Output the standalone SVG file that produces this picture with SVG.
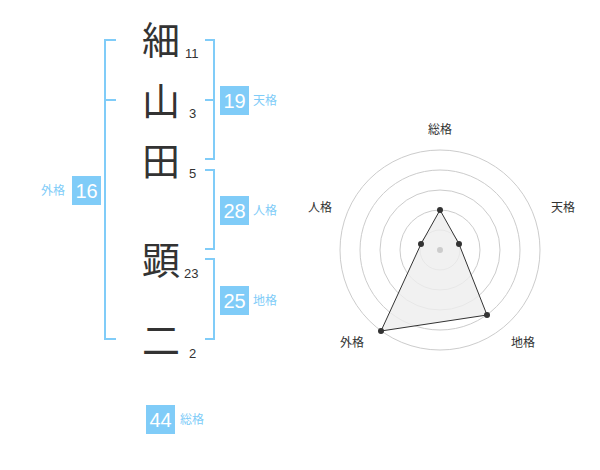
<svg xmlns="http://www.w3.org/2000/svg" width="600" height="470" viewBox="0 0 600 470">
<style>
.br{fill:none;stroke:#80ccf8;stroke-width:2}
.box{fill:#80ccf8}
.num{font-family:"Liberation Sans",Arial,sans-serif;font-size:20px;fill:#fff;text-anchor:middle}
.lab{font-family:"Noto Sans CJK JP","Noto Sans CJK SC",sans-serif;font-size:12px;fill:#80ccf8}
.ch{font-family:"Noto Sans CJK JP","Noto Sans CJK SC",sans-serif;font-size:38px;fill:#333;text-anchor:middle}
.st{font-family:"Liberation Sans",Arial,sans-serif;font-size:13px;fill:#333}
.ring{fill:none;stroke:#ccc;stroke-width:1}
.rl{font-family:"Noto Sans CJK JP","Noto Sans CJK SC",sans-serif;font-size:12px;fill:#333;text-anchor:middle}
.pt{fill:#333}
</style>
<rect width="600" height="470" fill="#fff"/>
<g id="connectors">
<path class="br" d="M116,40H105V339H116M105,100H116"/>
<path class="br" d="M205,40H214V159H205M214,100H205"/>
<path class="br" d="M205,170H214V249H205"/>
<path class="br" d="M205,259H214V339H205"/>
</g>
<g id="name">
<text class="ch" x="161" y="54">細</text>
<text class="ch" x="161" y="115">山</text>
<text class="ch" x="161" y="175">田</text>
<text class="ch" x="161" y="274">顕</text>
<text class="ch" x="161" y="354">二</text>
<text class="st" x="185" y="58">11</text>
<text class="st" x="189" y="118">3</text>
<text class="st" x="189" y="178">5</text>
<text class="st" x="184" y="278">23</text>
<text class="st" x="189" y="358">2</text>
</g>
<g id="gaikaku">
<rect class="box" x="72" y="176" width="29" height="29"/>
<text class="num" x="86.5" y="198">16</text>
<text class="lab" x="41" y="195">外格</text>
</g>
<g id="tenkaku">
<rect class="box" x="220" y="86" width="29" height="29"/>
<text class="num" x="234.5" y="108">19</text>
<text class="lab" x="253" y="105">天格</text>
</g>
<g id="jinkaku">
<rect class="box" x="220" y="196" width="29" height="29"/>
<text class="num" x="234.5" y="218">28</text>
<text class="lab" x="253" y="215">人格</text>
</g>
<g id="chikaku">
<rect class="box" x="220" y="286" width="29" height="29"/>
<text class="num" x="234.5" y="308">25</text>
<text class="lab" x="253" y="305">地格</text>
</g>
<g id="soukaku">
<rect class="box" x="146" y="405" width="29" height="29"/>
<text class="num" x="160.5" y="427">44</text>
<text class="lab" x="180" y="424">総格</text>
</g>
<g id="radar">
<circle class="ring" cx="440" cy="250" r="100"/>
<circle class="ring" cx="440" cy="250" r="80"/>
<circle class="ring" cx="440" cy="250" r="60"/>
<circle class="ring" cx="440" cy="250" r="40"/>
<circle class="ring" cx="440" cy="250" r="20"/>
<polygon points="440,210 459,244 487,315 381,331 421,244" fill="#eee" fill-opacity="0.8" stroke="#333" stroke-width="1"/>
<circle cx="440" cy="250" r="3" fill="#ccc"/>
<circle class="pt" cx="440" cy="210" r="3"/>
<circle class="pt" cx="459" cy="244" r="3"/>
<circle class="pt" cx="487" cy="315" r="3"/>
<circle class="pt" cx="381" cy="331" r="3"/>
<circle class="pt" cx="421" cy="244" r="3"/>
<text class="rl" x="440" y="134">総格</text>
<text class="rl" x="563" y="212">天格</text>
<text class="rl" x="320" y="212">人格</text>
<text class="rl" x="352" y="347">外格</text>
<text class="rl" x="523" y="347">地格</text>
</g>
</svg>
